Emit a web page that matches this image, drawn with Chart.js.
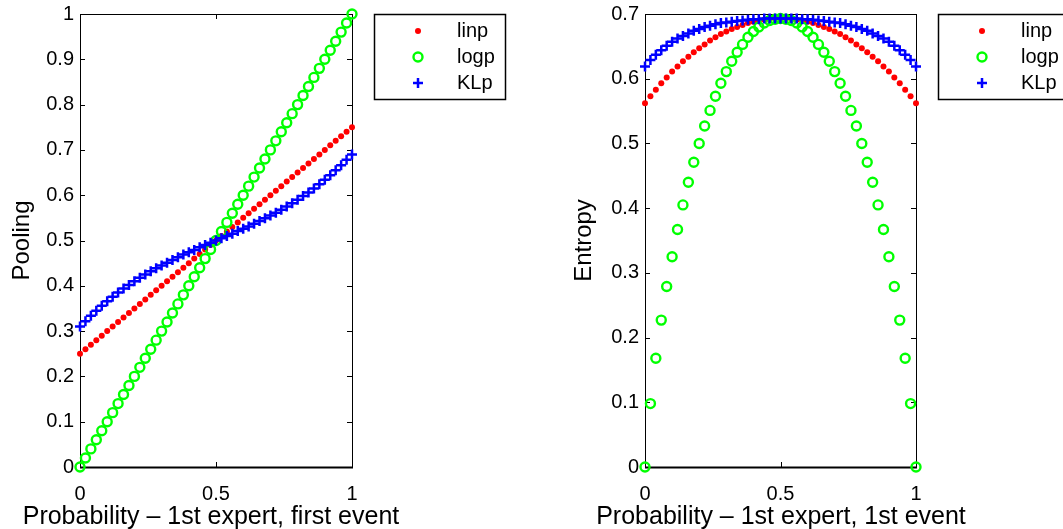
<!DOCTYPE html>
<html>
<head>
<meta charset="utf-8">
<title>Pooling and entropy</title>
<script src="https://cdn.jsdelivr.net/npm/chart.js@4.4.0/dist/chart.umd.min.js"></script>
<style>
  html, body { margin: 0; padding: 0; background: #fff; }
  #wrap { position: relative; width: 1063px; height: 529px; overflow: hidden; }
  canvas { position: absolute; top: 0; }
</style>
</head>
<body>
<div id="wrap">
  <canvas id="pooling" width="540" height="529" style="left:0"></canvas>
  <canvas id="entropy" width="540" height="529" style="left:540px"></canvas>
</div>
<script>
// probability of the 1st expert, first event
var probs = [0, 0.02, 0.04, 0.06, 0.08, 0.1, 0.12, 0.14, 0.16, 0.18, 0.2, 0.22, 0.24, 0.26, 0.28, 0.3, 0.32, 0.34, 0.36, 0.38, 0.4,
    0.42, 0.44, 0.46, 0.48, 0.5, 0.52, 0.54, 0.56, 0.58, 0.6, 0.62, 0.64, 0.66, 0.68, 0.7, 0.72, 0.74, 0.76, 0.78, 0.8,
    0.82, 0.84, 0.86, 0.88, 0.9, 0.92, 0.94, 0.96, 0.98, 1];

// pooled probability
var linp = [0.25, 0.26, 0.27, 0.28, 0.29, 0.3, 0.31, 0.32, 0.33, 0.34, 0.35, 0.36, 0.37, 0.38, 0.39, 0.4, 0.41, 0.42, 0.43, 0.44, 0.45,
    0.46, 0.47, 0.48, 0.49, 0.5, 0.51, 0.52, 0.53, 0.54, 0.55, 0.56, 0.57, 0.58, 0.59, 0.6, 0.61, 0.62, 0.63, 0.64, 0.65,
    0.66, 0.67, 0.68, 0.69, 0.7, 0.71, 0.72, 0.73, 0.74, 0.75];
var logp = [0, 0.02, 0.04, 0.06, 0.08, 0.1, 0.12, 0.14, 0.16, 0.18, 0.2, 0.22, 0.24, 0.26, 0.28, 0.3, 0.32, 0.34, 0.36, 0.38, 0.4,
    0.42, 0.44, 0.46, 0.48, 0.5, 0.52, 0.54, 0.56, 0.58, 0.6, 0.62, 0.64, 0.66, 0.68, 0.7, 0.72, 0.74, 0.76, 0.78, 0.8,
    0.82, 0.84, 0.86, 0.88, 0.9, 0.92, 0.94, 0.96, 0.98, 1];
var klp = [0.310, 0.322, 0.334, 0.345, 0.356, 0.366, 0.376, 0.385, 0.394, 0.402, 0.410, 0.418, 0.425, 0.432, 0.439, 0.445, 0.451,
    0.457, 0.463, 0.469, 0.474, 0.479, 0.485, 0.490, 0.495, 0.500, 0.505, 0.510, 0.515, 0.521, 0.526, 0.531, 0.537, 0.543,
    0.549, 0.555, 0.561, 0.568, 0.575, 0.582, 0.590, 0.598, 0.606, 0.615, 0.624, 0.634, 0.644, 0.655, 0.666, 0.678, 0.690];

// entropy of the pooled distribution
var linpH = [0.562, 0.573, 0.583, 0.593, 0.602, 0.611, 0.619, 0.627, 0.634, 0.641, 0.647, 0.653, 0.659, 0.664, 0.669, 0.673, 0.677,
    0.680, 0.683, 0.686, 0.688, 0.690, 0.691, 0.692, 0.693, 0.693, 0.693, 0.692, 0.691, 0.690, 0.688, 0.686, 0.683, 0.680,
    0.677, 0.673, 0.669, 0.664, 0.659, 0.653, 0.647, 0.641, 0.634, 0.627, 0.619, 0.611, 0.602, 0.593, 0.583, 0.573, 0.562];
var logpH = [0, 0.098, 0.168, 0.227, 0.279, 0.325, 0.367, 0.405, 0.440, 0.471, 0.500, 0.527, 0.551, 0.573, 0.593, 0.611, 0.627,
    0.641, 0.653, 0.664, 0.673, 0.680, 0.686, 0.690, 0.692, 0.693, 0.692, 0.690, 0.686, 0.680, 0.673, 0.664, 0.653, 0.641,
    0.627, 0.611, 0.593, 0.573, 0.551, 0.527, 0.500, 0.471, 0.440, 0.405, 0.367, 0.325, 0.279, 0.227, 0.168, 0.098, 0];
var klpH = [0.619, 0.629, 0.637, 0.644, 0.651, 0.657, 0.662, 0.666, 0.670, 0.674, 0.677, 0.680, 0.682, 0.684, 0.686, 0.687, 0.688,
    0.689, 0.690, 0.691, 0.692, 0.692, 0.693, 0.693, 0.693, 0.693, 0.693, 0.693, 0.693, 0.692, 0.692, 0.691, 0.690, 0.689,
    0.688, 0.687, 0.686, 0.684, 0.682, 0.680, 0.677, 0.674, 0.670, 0.666, 0.662, 0.657, 0.651, 0.644, 0.637, 0.629, 0.619];

var xTicks = [0, 0.5, 1];
var poolTicks = [0, 0.1, 0.2, 0.3, 0.4, 0.5, 0.6, 0.7, 0.8, 0.9, 1];
var entropyTicks = [0, 0.1, 0.2, 0.3, 0.4, 0.5, 0.6, 0.7];
var seriesNames = ['linp', 'logp', 'KLp'];

var FONT = "'Liberation Sans', Arial, Helvetica, sans-serif";
Chart.defaults.font.family = FONT;
Chart.defaults.color = '#000';

function tickText(v) {
    return String(+Number(v).toFixed(2));
}

// box round the plot with inward tick marks on all four sides
var boxAxes = {
    id: 'boxAxes',
    beforeDatasetsDraw: function (chart) {
        var ctx = chart.ctx, a = chart.chartArea, x = chart.scales.x, y = chart.scales.y;
        ctx.save();
        ctx.strokeStyle = '#000';
        ctx.lineWidth = 1;
        ctx.strokeRect(Math.round(a.left) + 0.5, Math.round(a.top) + 0.5, Math.round(a.width), Math.round(a.height));
        ctx.beginPath();
        x.ticks.forEach(function (t) {
            var px = Math.round(x.getPixelForValue(t.value)) + 0.5;
            ctx.moveTo(px, a.bottom); ctx.lineTo(px, a.bottom - 5);
            ctx.moveTo(px, a.top); ctx.lineTo(px, a.top + 5);
        });
        y.ticks.forEach(function (t) {
            var py = Math.round(y.getPixelForValue(t.value)) + 0.5;
            ctx.moveTo(a.left, py); ctx.lineTo(a.left + 5, py);
            ctx.moveTo(a.right, py); ctx.lineTo(a.right - 5, py);
        });
        ctx.stroke();
        // bottom edge is a little heavier
        ctx.lineWidth = 2;
        ctx.beginPath();
        ctx.moveTo(a.left, Math.round(a.bottom) + 0.5);
        ctx.lineTo(a.right + 1, Math.round(a.bottom) + 0.5);
        ctx.stroke();
        ctx.restore();
    },
    // x label is wider than the plot, so it is drawn here rather than by the scale
    afterDraw: function (chart, args, opts) {
        var ctx = chart.ctx;
        ctx.save();
        ctx.fillStyle = '#000';
        ctx.font = '25px ' + FONT;
        ctx.textAlign = 'center';
        ctx.textBaseline = 'alphabetic';
        ctx.fillText(opts.xTitle, opts.xTitleAt, 524);
        ctx.restore();
    }
};

// boxed legend to the right of the plot
var boxLegend = {
    id: 'boxLegend',
    afterDraw: function (chart) {
        var ctx = chart.ctx, a = chart.chartArea;
        var left = Math.round(a.right) + 22, top = Math.round(a.top);
        ctx.save();
        ctx.strokeStyle = '#000';
        ctx.lineWidth = 1.5;
        ctx.strokeRect(left + 0.5, top + 0.5, 131, 85);
        chart.data.datasets.forEach(function (ds, i) {
            var cy = top + 17 + i * 26;
            ctx.save();
            ctx.fillStyle = ds.pointBackgroundColor;
            ctx.strokeStyle = ds.pointBorderColor;
            ctx.lineWidth = ds.pointBorderWidth;
            Chart.helpers.drawPoint(ctx, {
                pointStyle: ds.pointStyle,
                radius: ds.pointRadius,
                borderWidth: ds.pointBorderWidth,
                rotation: 0
            }, left + 44, cy);
            ctx.restore();
            ctx.fillStyle = '#000';
            ctx.font = '20px ' + FONT;
            ctx.textBaseline = 'middle';
            ctx.textAlign = 'left';
            ctx.fillText(ds.label, left + 83, cy);
        });
        ctx.restore();
    }
};

function makeDatasets(a, b, c) {
    var pts = function (vals) {
        return probs.map(function (p, i) { return { x: p, y: vals[i] }; });
    };
    return [{
        label: seriesNames[0],
        data: pts(a),
        order: 3,
        pointStyle: 'circle',
        pointRadius: 3,
        pointBorderWidth: 0,
        pointBackgroundColor: '#ff0000',
        pointBorderColor: '#ff0000',
        clip: false
    }, {
        label: seriesNames[1],
        data: pts(b),
        order: 2,
        pointStyle: 'circle',
        pointRadius: 4.5,
        pointBorderWidth: 2.4,
        pointBackgroundColor: 'rgba(0,0,0,0)',
        pointBorderColor: '#00ff00',
        clip: false
    }, {
        label: seriesNames[2],
        data: pts(c),
        order: 1,
        pointStyle: 'cross',
        pointRadius: 5,
        pointBorderWidth: 2.5,
        pointBackgroundColor: '#0000ff',
        pointBorderColor: '#0000ff',
        clip: false
    }];
}

function makeChart(id, opts) {
    return new Chart(document.getElementById(id).getContext('2d'), {
        type: 'scatter',
        data: { datasets: makeDatasets(opts.a, opts.b, opts.c) },
        options: {
            responsive: false,
            animation: false,
            events: [],
            layout: { padding: { left: 0, top: 14, right: opts.padRight, bottom: 0 } },
            plugins: {
                legend: { display: false },
                tooltip: { enabled: false },
                boxAxes: { xTitle: opts.xTitle, xTitleAt: opts.xTitleAt }
            },
            scales: {
                x: {
                    type: 'linear',
                    min: 0,
                    max: 1,
                    grid: { display: false, drawTicks: false },
                    border: { display: false },
                    afterBuildTicks: function (s) { s.ticks = xTicks.map(function (v) { return { value: v }; }); },
                    afterFit: function (s) { s.height = 62; s.paddingLeft = 0; s.paddingRight = 0; },
                    ticks: { font: { size: 20 }, padding: 15, maxRotation: 0, callback: tickText }
                },
                y: {
                    type: 'linear',
                    min: 0,
                    max: opts.yMax,
                    grid: { display: false, drawTicks: false },
                    border: { display: false },
                    afterBuildTicks: function (s) { s.ticks = opts.yTicks.map(function (v) { return { value: v }; }); },
                    afterFit: function (s) { s.width = opts.yWidth; s.paddingTop = 0; s.paddingBottom = 0; },
                    ticks: { font: { size: 20 }, padding: 6, callback: tickText },
                    title: { display: true, text: opts.yTitle, font: { size: 24 }, padding: { top: opts.titlePad, bottom: 0 } }
                }
            }
        },
        plugins: [boxAxes, boxLegend]
    });
}

makeChart('pooling', {
    a: linp, b: logp, c: klp,
    yMax: 1, yTicks: poolTicks,
    yWidth: 80, padRight: 188, titlePad: 8,
    xTitle: 'Probability \u2013 1st expert, first event', xTitleAt: 211,
    yTitle: 'Pooling'
});

makeChart('entropy', {
    a: linpH, b: logpH, c: klpH,
    yMax: 0.7, yTicks: entropyTicks,
    yWidth: 105, padRight: 164, titlePad: 30,
    xTitle: 'Probability \u2013 1st expert, 1st event', xTitleAt: 241,
    yTitle: 'Entropy'
});
</script>
</body>
</html>
